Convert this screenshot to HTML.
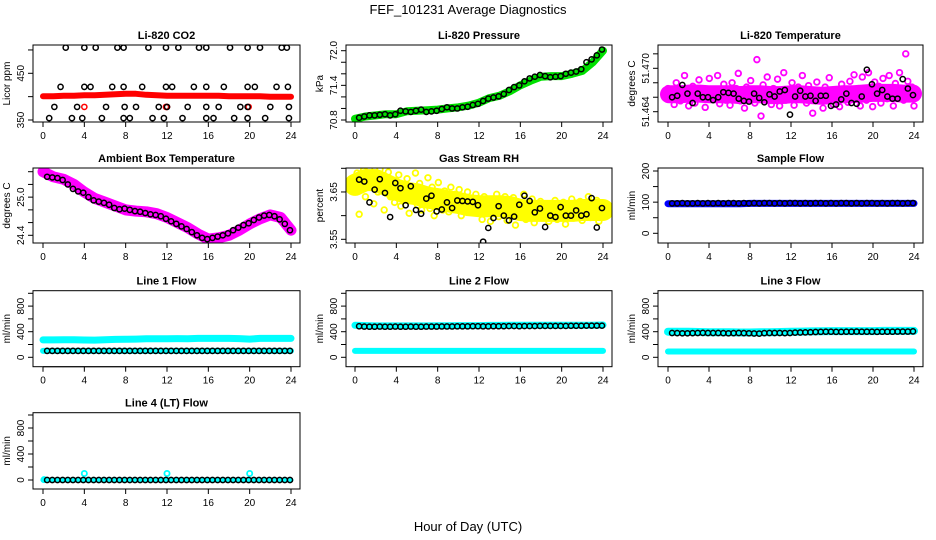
<!DOCTYPE html>
<html><head><meta charset="utf-8"><style>
html,body{margin:0;padding:0;background:#fff;}
svg{display:block;font-family:"Liberation Sans",Arial,sans-serif;}
</style></head><body>
<svg id="c" width="936" height="540" viewBox="0 0 936 540">
<text x="468" y="14" text-anchor="middle" font-size="13">FEF_101231  Average Diagnostics</text>
<text x="468" y="531" text-anchor="middle" font-size="13">Hour of Day (UTC)</text>
</svg>
<script>
// ---------- data ----------
const xTicks = [0,4,8,12,16,20,24];
const co2Times = [2.2,4.0,5.1,7.2,7.8,10.2,11.9,13.1,15.1,15.8,18.1,19.8,21.0,23.1,23.6, 1.7,4.0,4.6,6.7,7.8,9.6,11.9,12.5,14.6,15.8,17.5,19.8,20.5,22.6,23.7, 1.1,3.3,6.1,7.9,9.0,11.2,12.0,14.0,15.8,17.0,19.1,19.8,22.0,23.8, 0.6,2.8,3.8,5.7,7.8,8.4,10.6,11.7,13.5,15.8,16.5,18.5,19.8,21.5,23.8];
const co2Black = [505,505,505,505,505,505,505,505,505,505,505,505,505,505,505, 421,421,421,421,421,421,421,421,421,421,421,421,421,421,421, 378,378,378,378,378,378,378,378,378,378,378,378,378,378, 354,354,354,354,354,354,354,354,354,354,354,354,354,354,354];
const co2Red = [401,401,402,402,403,403,404,405,406,406,404,403,402,402,402,402,402,402,401,401,401,401,400,400,400];
const co2RedOutT = [4.0,11.9,19.9,12.0];
const co2RedOut = [378,378,378,378];
const presBlack = [70.84,70.86,70.88,70.88,70.89,70.9,70.88,70.9,70.96,70.95,70.94,70.96,70.98,70.94,70.95,70.96,70.99,71.02,71.0,71.0,71.02,71.03,71.06,71.08,71.13,71.17,71.19,71.21,71.25,71.32,71.37,71.4,71.47,71.52,71.55,71.58,71.56,71.54,71.55,71.56,71.6,71.62,71.64,71.68,71.8,71.85,71.92,72.02];
const presGreen = [70.82,70.86,70.88,70.9,70.9,70.95,70.96,70.97,70.98,71.0,71.02,71.05,71.1,71.18,71.22,71.3,71.4,71.48,71.55,71.56,71.56,71.6,71.65,71.8,72.0];
const tempPink = [51.4672,51.4658,51.4666,51.4650,51.4680,51.4662,51.4655,51.4670,51.4690,51.4660,51.4648,51.4668,51.4675,51.4652,51.4663,51.4684,51.4659,51.4671,51.4646,51.4666,51.4686,51.4657,51.4668,51.4660,51.4690,51.4651,51.4664,51.4678,51.4656,51.4669,51.4649,51.4680,51.4661,51.4672,51.4693,51.4655,51.4666,51.4645,51.4674,51.4660,51.4683,51.4668,51.4652,51.4712,51.4663,51.4634,51.4677,51.4658,51.4688,51.4665,51.4650,51.4672,51.4660,51.4685,51.4648,51.4668,51.4694,51.4656,51.4670,51.4662,51.4680,51.4649,51.4667,51.4674,51.4657,51.4690,51.4664,51.4652,51.4676,51.4661,51.4638,51.4668,51.4681,51.4655,51.4665,51.4645,51.4674,51.4659,51.4687,51.4664,51.4650,51.4670,51.4662,51.4647,51.4678,51.4657,51.4668,51.4653,51.4682,51.4666,51.4691,51.4660,51.4672,51.4648,51.4688,51.4665,51.4656,51.4694,51.4670,51.4647,51.4681,51.4662,51.4675,51.4652,51.4686,51.4667,51.4658,51.4690,51.4672,51.4648,51.4679,51.4662,51.4694,51.4666,51.4656,51.4720,51.4682,51.4660,51.4674,51.4648];
const tempPinkBand = [51.4664,51.4664,51.4665,51.4665,51.4664,51.4664,51.4664,51.4663,51.4664,51.4664,51.4663,51.4663,51.4664,51.4664,51.4663,51.4662,51.4663,51.4664,51.4664,51.4665,51.4666,51.4666,51.4666,51.4665,51.4665];
const tempBlack = [51.4660,51.4662,51.4677,51.4665,51.4652,51.4665,51.4660,51.4660,51.4656,51.4660,51.4667,51.4666,51.4665,51.4658,51.4655,51.4654,51.4665,51.4659,51.4653,51.4664,51.4661,51.4668,51.4670,51.4636,51.4661,51.4669,51.4661,51.4662,51.4655,51.4662,51.4662,51.4648,51.4650,51.4657,51.4665,51.4652,51.4651,51.4661,51.4698,51.4678,51.4665,51.4670,51.4661,51.4658,51.4658,51.4685,51.4672,51.4663];
const ambBlack = [25.32,25.31,25.3,25.27,25.2,25.13,25.09,25.07,25.0,24.95,24.93,24.91,24.88,24.83,24.81,24.82,24.8,24.78,24.77,24.75,24.73,24.72,24.7,24.66,24.62,24.58,24.54,24.5,24.45,24.4,24.36,24.34,24.36,24.38,24.4,24.43,24.48,24.52,24.56,24.59,24.64,24.68,24.71,24.72,24.7,24.65,24.58,24.48];
const ambPink = [25.4,25.32,25.28,25.2,25.08,24.98,24.92,24.86,24.8,24.78,24.77,24.74,24.68,24.6,24.52,24.42,24.34,24.36,24.4,24.48,24.58,24.66,24.72,24.68,24.48];
const rhYellow = [3.655,3.690,3.603,3.672,3.695,3.640,3.682,3.700,3.662,3.625,3.688,3.650,3.698,3.670,3.612,3.660,3.692,3.640,3.675,3.628,3.655,3.686,3.620,3.662,3.648,3.678,3.605,3.655,3.640,3.690,3.622,3.668,3.612,3.650,3.635,3.680,3.615,3.660,3.600,3.645,3.670,3.625,3.612,3.652,3.638,3.608,3.660,3.630,3.645,3.618,3.655,3.600,3.640,3.625,3.650,3.612,3.635,3.620,3.645,3.605,3.630,3.592,3.640,3.615,3.625,3.588,3.635,3.610,3.645,3.598,3.625,3.612,3.640,3.590,3.620,3.606,3.638,3.580,3.628,3.612,3.600,3.645,3.592,3.622,3.608,3.635,3.585,3.618,3.600,3.630,3.595,3.612,3.625,3.588,3.615,3.603,3.632,3.592,3.618,3.605,3.628,3.582,3.612,3.600,3.635,3.595,3.620,3.608,3.630,3.590,3.615,3.603,3.640,3.596,3.618,3.605,3.632,3.588,3.624,3.610];
const rhYellowBand = [3.665,3.675,3.675,3.665,3.655,3.648,3.645,3.638,3.635,3.63,3.627,3.622,3.62,3.62,3.62,3.618,3.612,3.61,3.61,3.61,3.61,3.61,3.612,3.612,3.612];
const rhBlack = [3.676,3.672,3.628,3.655,3.677,3.648,3.597,3.669,3.658,3.622,3.662,3.612,3.604,3.636,3.642,3.609,3.613,3.628,3.616,3.632,3.631,3.63,3.629,3.622,3.545,3.574,3.595,3.62,3.6,3.59,3.598,3.623,3.642,3.631,3.607,3.615,3.576,3.6,3.597,3.618,3.6,3.6,3.611,3.6,3.603,3.637,3.575,3.616];
const sampleBlue = [95,95,95,95,95,95,95,95,96,96,96,96,96,96,96,96,96,96,96,96,96,96,96,96,96];
const sampleBlack = [96,96,97,96,96,97,96,97,96,97,96,97,97,96,97,96,97,96,97,97,96,97,96,97,97,96,97,96,97,97,96,97,96,97,97,96,97,96,97,97,96,97,96,97,97,96,97,97];
const l1CyanHigh = [272,272,274,275,270,268,275,280,282,285,290,290,290,292,290,295,295,295,295,292,285,295,295,295,295];
const l1CyanLow = [100,100,100,100,100,100,100,100,100,100,100,100,100,100,100,100,100,100,100,100,100,100,100,100,100];
const l1Black = [100,100,100,100,100,100,100,100,100,100,100,100,100,100,100,100,100,100,100,100,100,100,100,100,100,100,100,100,100,100,100,100,100,100,100,100,100,100,100,100,100,100,100,100,100,100,100,100];
const l2CyanHigh = [500,495,490,490,490,490,490,490,492,492,495,495,495,498,498,500,500,500,500,500,500,502,502,502,505];
const l2CyanLow = [100,100,100,100,100,100,100,100,100,100,100,100,100,100,100,100,100,100,100,100,100,100,100,100,100];
const l2Black = [485,480,478,478,480,478,478,480,478,478,480,478,478,480,480,480,482,482,482,484,484,484,486,486,484,484,486,486,486,488,488,486,488,488,488,490,490,490,490,490,490,492,492,492,494,494,494,494];
const l3CyanHigh = [400,400,398,395,392,392,390,388,388,390,392,395,400,402,405,408,410,410,410,410,410,412,412,412,412];
const l3CyanLow = [90,90,90,90,90,90,90,90,90,90,90,90,90,90,90,90,90,90,90,90,90,90,90,90,90];
const l3Black = [380,378,375,375,378,380,382,380,380,380,378,375,378,380,378,375,372,370,378,380,380,380,378,380,385,388,390,392,395,398,400,400,398,398,400,400,402,400,400,400,398,400,400,400,402,402,402,405];
const l4CyanBand = [0,0,0,0,0,0,0,0,0,0,0,0,0,0,0,0,0,0,0,0,0,0,0,0,0];
const l4CyanT = [0.1,4.0,12.0,20.0];
const l4Cyan = [5,100,100,100];
const l4Black = [0,0,0,0,0,0,0,0,0,0,0,0,0,0,0,0,0,0,0,0,0,0,0,0,0,0,0,0,0,0,0,0,0,0,0,0,0,0,0,0,0,0,0,0,0,0,0,0];

// ---------- drawing ----------
const NS = "http://www.w3.org/2000/svg";
const svg = document.getElementById('c');
function mk(tag, attrs, parent){
  const e = document.createElementNS(NS, tag);
  for (const k in attrs) e.setAttribute(k, attrs[k]);
  (parent||svg).appendChild(e);
  return e;
}
const cols = [{bx0:33,bx1:300,t0:43,t24:291},{bx0:346,bx1:612,t0:355,t24:603},{bx0:658,bx1:923,t0:668,t24:914}];
const rows = [{by0:45,by1:122},{by0:168,by1:243},{by0:290.7,by1:366.7},{by0:412.7,by1:489}];
const fmt = (v,d)=>v.toFixed(d);

function panel(p){
  const c = cols[p.col], r = rows[p.row];
  const g = mk('g', {});
  
  
  const X = t => c.t0 + (c.t24 - c.t0) * t / 24;
  const Y = v => p.p1 + (p.p2 - p.p1) * (v - p.v1) / (p.v2 - p.v1);
  const tt = mk('text', {x:(c.bx0+c.bx1)/2, y:r.by0-6, 'text-anchor':'middle', 'font-size':11, 'font-weight':'bold'}, g);
  tt.textContent = p.title;
  
  
  const xa = mk('g', {}, g);
  
  
  mk('line', {x1:X(0), x2:X(24), y1:r.by1, y2:r.by1, stroke:'#000'}, xa);
  xTicks.forEach(t=>{
    mk('line', {x1:X(t), x2:X(t), y1:r.by1, y2:r.by1+5, stroke:'#000'}, xa);
    const tl = mk('text', {x:X(t), y:r.by1+17, 'text-anchor':'middle', 'font-size':10}, xa);
    tl.textContent = t;
  });
  const ya = mk('g', {}, g);
  
  
  const yt = p.yticks;
  mk('line', {x1:c.bx0, x2:c.bx0, y1:Y(yt[0]), y2:Y(yt[yt.length-1]), stroke:'#000'}, ya);
  yt.forEach(v=>{
    mk('line', {x1:c.bx0-5, x2:c.bx0, y1:Y(v), y2:Y(v), stroke:'#000'}, ya);
  });
  p.ylabels.forEach(v=>{
    const lx = c.bx0-9, ly = Y(v);
    const tl = mk('text', {x:lx, y:ly, 'text-anchor':'middle', 'font-size':10, transform:`rotate(-90 ${lx} ${ly})`}, ya);
    tl.textContent = fmt(v, p.dec);
  });
  const ax = c.bx0-23, ay = (r.by0+r.by1)/2;
  const yl = mk('text', {x:ax, y:ay, 'text-anchor':'middle', 'font-size':10, transform:`rotate(-90 ${ax} ${ay})`}, g);
  yl.textContent = p.ylab;
  
  
  const clip = 'clip' + p.name;
  const cp = mk('clipPath', {id:clip}, g);
  mk('rect', {x:c.bx0, y:r.by0, width:c.bx1-c.bx0, height:r.by1-r.by0}, cp);
  const mg = mk('g', {'clip-path':`url(#${clip})`}, g);
  p.series.forEach(s=>{
    const sg = mk('g', {}, mg);
    
    
    const n = s.vals.length;
    const tOf = i => s.times ? s.times[i] : (s.t0 + (s.t1 - s.t0) * i / Math.max(1, n-1));
    if (s.band) {
      const pts = s.vals.map((v,i)=>X(tOf(i)).toFixed(1)+','+Y(v).toFixed(1)).join(' ');
      mk('polyline', {points:pts, fill:'none', stroke:s.color, 'stroke-width':s.band, 'stroke-linejoin':'round', 'stroke-linecap':'round'}, sg);
    } else {
      s.vals.forEach((v,i)=>{
        const pt = mk('circle', {cx:X(tOf(i)), cy:Y(v), r:s.r||2.6, fill:'none', stroke:s.color, 'stroke-width':s.sw||1.5}, sg);
        
        
      });
    }
  });
  mk('rect', {x:c.bx0, y:r.by0, width:c.bx1-c.bx0, height:r.by1-r.by0, fill:'none', stroke:'#000'}, g);
}
const tb = {t0:0.4, t1:23.9};
const flowTicks = [0,200,400,600,800,1000];
panel({name:'co2-panel', col:0,row:0,title:'Li-820 CO2',ylab:'Licor ppm',v1:350,p1:120,v2:450,p2:73.3,yticks:[350,400,450,500],ylabels:[350,450],dec:0,
  series:[{name:'co2-red-band',vals:co2Red,t0:0,t1:24,band:6,color:'#f00'},
          {name:'co2-red-outliers',vals:co2RedOut,times:co2RedOutT,color:'#f00'},
          {name:'co2-black',vals:co2Black,times:co2Times,color:'#000'}]});
panel({name:'pressure-panel', col:1,row:0,title:'Li-820 Pressure',ylab:'kPa',v1:70.8,p1:120,v2:72.0,p2:50.7,yticks:[70.8,71.0,71.2,71.4,71.6,71.8,72.0],ylabels:[70.8,71.4,72.0],dec:1,
  series:[{name:'pressure-green-band',vals:presGreen,t0:0,t1:24,band:8,color:'#00e000'},
          {name:'pressure-black',vals:presBlack,...tb,color:'#000'}]});
panel({name:'temperature-panel', col:2,row:0,title:'Li-820 Temperature',ylab:'degrees C',v1:51.464,p1:111.7,v2:51.470,p2:68.3,yticks:[51.464,51.466,51.468,51.470,51.472],ylabels:[51.464,51.470],dec:3,
  series:[{name:'temperature-magenta-band',vals:tempPinkBand,t0:0.1,t1:23.9,band:18,color:'#f0f'},
          {name:'temperature-magenta',vals:tempPink,t0:0,t1:24,color:'#f0f',r:2.8,sw:1.8},
          {name:'temperature-black',vals:tempBlack,...tb,color:'#000'}]});
panel({name:'ambient-panel', col:0,row:1,title:'Ambient Box Temperature',ylab:'degrees C',v1:24.4,p1:235.3,v2:25.4,p2:171.7,yticks:[24.4,24.6,24.8,25.0,25.2,25.4],ylabels:[24.4,25.0],dec:1,
  series:[{name:'ambient-magenta-band',vals:ambPink,t0:0,t1:24,band:11,color:'#f0f'},
          {name:'ambient-black',vals:ambBlack,...tb,color:'#000'}]});
panel({name:'rh-panel', col:1,row:1,title:'Gas Stream RH',ylab:'percent',v1:3.55,p1:239.3,v2:3.70,p2:168.3,yticks:[3.55,3.60,3.65,3.70],ylabels:[3.55,3.65],dec:2,
  series:[{name:'rh-yellow-band',vals:rhYellowBand,t0:0,t1:24,band:22,color:'#ff0'},
          {name:'rh-yellow',vals:rhYellow,t0:0,t1:24,color:'#ff0',r:2.8,sw:1.8},
          {name:'rh-black',vals:rhBlack,...tb,color:'#000'}]});
panel({name:'sample-flow-panel', col:2,row:1,title:'Sample Flow',ylab:'ml/min',v1:0,p1:233.3,v2:200,p2:171,yticks:[0,50,100,150,200],ylabels:[0,100,200],dec:0,
  series:[{name:'sample-blue-band',vals:sampleBlue,t0:0,t1:24,band:7,color:'#00f'},
          {name:'sample-black',vals:sampleBlack,...tb,color:'#000'}]});
panel({name:'line1-flow-panel', col:0,row:2,title:'Line 1 Flow',ylab:'ml/min',v1:0,p1:357.3,v2:1000,p2:293.3,yticks:flowTicks,ylabels:[0,400,800],dec:0,
  series:[{name:'line1-cyan-high',vals:l1CyanHigh,t0:0,t1:24,band:7,color:'#0ff'},
          {name:'line1-cyan-low',vals:l1CyanLow,t0:0,t1:24,band:6,color:'#0ff'},
          {name:'line1-black',vals:l1Black,...tb,color:'#000'}]});
panel({name:'line2-flow-panel', col:1,row:2,title:'Line 2 Flow',ylab:'ml/min',v1:0,p1:357.3,v2:1000,p2:293.3,yticks:flowTicks,ylabels:[0,400,800],dec:0,
  series:[{name:'line2-cyan-high',vals:l2CyanHigh,t0:0,t1:24,band:7,color:'#0ff'},
          {name:'line2-cyan-low',vals:l2CyanLow,t0:0,t1:24,band:6,color:'#0ff'},
          {name:'line2-black',vals:l2Black,...tb,color:'#000'}]});
panel({name:'line3-flow-panel', col:2,row:2,title:'Line 3 Flow',ylab:'ml/min',v1:0,p1:357.3,v2:1000,p2:293.3,yticks:flowTicks,ylabels:[0,400,800],dec:0,
  series:[{name:'line3-cyan-high',vals:l3CyanHigh,t0:0,t1:24,band:8,color:'#0ff'},
          {name:'line3-cyan-low',vals:l3CyanLow,t0:0,t1:24,band:6,color:'#0ff'},
          {name:'line3-black',vals:l3Black,...tb,color:'#000'}]});
panel({name:'line4-flow-panel', col:0,row:3,title:'Line 4 (LT) Flow',ylab:'ml/min',v1:0,p1:480,v2:1000,p2:415,yticks:flowTicks,ylabels:[0,400,800],dec:0,
  series:[{name:'line4-cyan-band',vals:l4CyanBand,t0:0,t1:24,band:5,color:'#0ff'},
          {name:'line4-cyan-outliers',vals:l4Cyan,times:l4CyanT,color:'#0ff',sw:1.8},
          {name:'line4-black',vals:l4Black,...tb,color:'#000'}]});
</script>
</body></html>
